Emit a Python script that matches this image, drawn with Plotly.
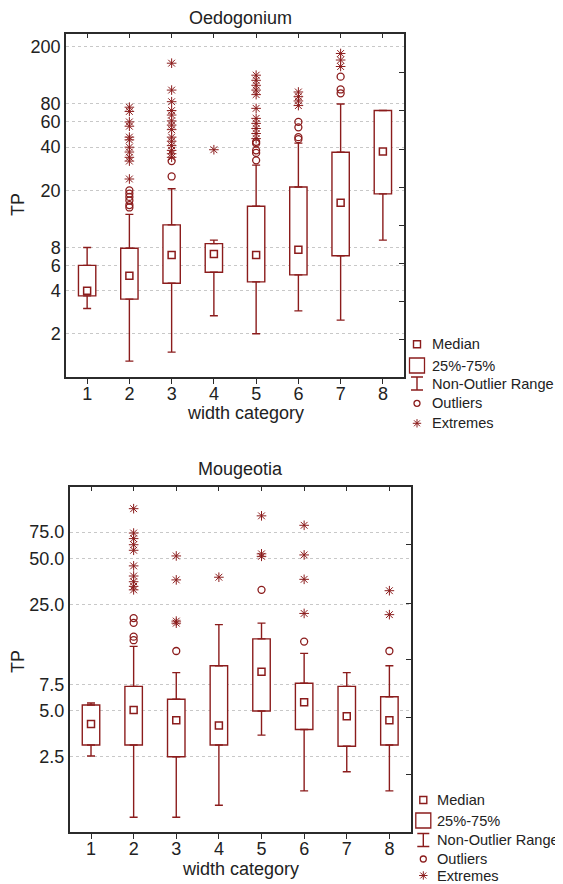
import plotly.graph_objects as go

# ---------------- data ----------------
categories = [1, 2, 3, 4, 5, 6, 7, 8]

# Oedogonium (top)
oed_q1 = [3.68, 3.49, 4.5, 5.37, 4.6, 5.15, 7.0, 18.9]
oed_median = [4.0, 5.07, 7.1, 7.2, 7.1, 7.7, 16.4, 37.3]
oed_q3 = [6.0, 7.9, 11.5, 8.5, 15.5, 21.1, 36.9, 72.0]
oed_low = [3.0, 1.29, 1.49, 2.67, 2.0, 2.89, 2.49, 9.0]
oed_high = [8.0, 13.6, 20.5, 9.0, 30.0, 42.7, 80.0, 72.0]
oed_outliers = [[], [20, 19, 18, 17, 15.8, 15.2], [32, 25], [], [43.6, 42.5, 38, 36.5, 32.4],
                [60, 55, 47, 45.5], [124, 101, 95], []]
oed_extremes = [[], [76, 71, 60, 56, 47, 45, 40, 37, 34, 32, 24],
                [154, 100, 83, 72, 67, 61, 57, 53, 47, 44, 41, 38, 36, 34],
                [38.4], [127, 117, 108, 100, 93, 74.6, 63.5, 58.6, 54, 49.8, 45.9],
                [97, 90, 84, 78], [180, 162, 146], []]
oed_ytick_vals = [2, 4, 6, 8, 20, 40, 60, 80, 200]
oed_ytick_text = ["2", "4", "6", "8", "20", "40", "60", "80", "200"]
oed_right_ticks = [1.84, 3.38, 6.22, 11.46, 21.1, 38.8, 71.6, 133.6]

# Mougeotia (bottom)
mou_q1 = [2.99, 2.99, 2.5, 2.99, 5.0, 3.78, 2.93, 2.99]
mou_median = [4.10, 5.07, 4.34, 4.02, 9.06, 5.70, 4.61, 4.34]
mou_q3 = [5.47, 7.26, 5.97, 9.92, 14.9, 7.60, 7.26, 6.2]
mou_low = [2.53, 1.0, 1.0, 1.2, 3.47, 1.49, 1.99, 1.49]
mou_high = [5.64, 13.3, 8.93, 18.5, 18.9, 11.97, 8.93, 9.92]
mou_outliers = [[], [20.4, 19.0, 15.4, 14.6], [12.4], [], [31.3], [14.3], [], [12.4]]
mou_extremes = [[], [107, 74, 68, 62, 57, 45, 38.6, 35.4, 33, 31.3],
                [52.3, 36.4, 19.5, 18.9], [37.9], [96, 54, 52], [83.2, 53.1, 36.7, 21.9],
                [], [30.9, 21.5]]
mou_ytick_vals = [2.5, 5.0, 7.5, 25.0, 50.0, 75.0]
mou_ytick_text = ["2.5", "5.0", "7.5", "25.0", "50.0", "75.0"]
mou_right_ticks = [1.9, 4.56, 10.9, 25.5, 62.4]

legend_labels = ["Median", "25%-75%", "Non-Outlier Range", "Outliers", "Extremes"]

# ---------------- style ----------------
RED = "#8b1c1c"
AX = "#2b2b2b"
FONT = "Liberation Sans, Arial, sans-serif"
VW, VH = 563, 884          # browser window
OFF = 8                    # default page body margin
W, H = VW - OFF, VH - OFF  # figure size that fits the window


def px(x):
    return (x - OFF) / W


def py(y):
    return 1 - (y - OFF) / H


fig = go.Figure()
annotations = []


def add_panel(xa, ya, q1, med, q3, low, high, outl, extr):
    # box (25%-75%)
    fig.add_trace(go.Bar(x=categories, y=[b - a for a, b in zip(q1, q3)], base=q1,
                         width=0.41, marker=dict(color="white", line=dict(color=RED, width=1.4)),
                         xaxis=xa, yaxis=ya, showlegend=False, hoverinfo="skip"))
    # upper whiskers
    fig.add_trace(go.Scatter(x=categories, y=q3, mode="markers", marker=dict(size=0.1, color=RED),
                             error_y=dict(type="data", symmetric=False,
                                          array=[h - b for b, h in zip(q3, high)],
                                          arrayminus=[0] * len(q3), width=4,
                                          thickness=1.4, color=RED),
                             xaxis=xa, yaxis=ya, showlegend=False, hoverinfo="skip"))
    # lower whiskers
    fig.add_trace(go.Scatter(x=categories, y=q1, mode="markers", marker=dict(size=0.1, color=RED),
                             error_y=dict(type="data", symmetric=False,
                                          array=[0] * len(q1),
                                          arrayminus=[a - l for a, l in zip(q1, low)], width=4,
                                          thickness=1.4, color=RED),
                             xaxis=xa, yaxis=ya, showlegend=False, hoverinfo="skip"))
    # medians
    fig.add_trace(go.Scatter(x=categories, y=med, mode="markers",
                             marker=dict(symbol="square-open", size=7, color=RED, line=dict(width=1.5)),
                             xaxis=xa, yaxis=ya, showlegend=False, name="Median"))
    # outliers
    ox = [c for c, vals in zip(categories, outl) for _ in vals]
    oy = [v for vals in outl for v in vals]
    fig.add_trace(go.Scatter(x=ox, y=oy, mode="markers",
                             marker=dict(symbol="circle-open", size=7, color=RED, line=dict(width=1.3)),
                             xaxis=xa, yaxis=ya, showlegend=False, name="Outliers"))
    # extremes
    ex = [c for c, vals in zip(categories, extr) for _ in vals]
    ey = [v for vals in extr for v in vals]
    fig.add_trace(go.Scatter(x=ex, y=ey, mode="markers",
                             marker=dict(symbol="asterisk-open", size=8, color=RED,
                                         line=dict(width=1, color=RED)),
                             xaxis=xa, yaxis=ya, showlegend=False, name="Extremes"))


def add_key(xa, ya, sym_x, text_x, rows):
    """Custom key drawn on a hidden pixel-scaled axis pair."""
    fig.add_trace(go.Scatter(x=[sym_x], y=[rows[0]], mode="markers", xaxis=xa, yaxis=ya,
                             marker=dict(symbol="square-open", size=7, color=RED, line=dict(width=1.4)),
                             showlegend=False, hoverinfo="skip"))
    fig.add_trace(go.Scatter(x=[sym_x], y=[rows[1]], mode="markers", xaxis=xa, yaxis=ya,
                             marker=dict(symbol="square-open", size=15, color=RED, line=dict(width=1.3)),
                             showlegend=False, hoverinfo="skip"))
    fig.add_trace(go.Scatter(x=[sym_x], y=[rows[2]], mode="markers", xaxis=xa, yaxis=ya,
                             marker=dict(size=0.1, color=RED),
                             error_y=dict(type="data", array=[6.5], width=6, thickness=1.4, color=RED),
                             showlegend=False, hoverinfo="skip"))
    fig.add_trace(go.Scatter(x=[sym_x], y=[rows[3]], mode="markers", xaxis=xa, yaxis=ya,
                             marker=dict(symbol="circle-open", size=6, color=RED, line=dict(width=1.3)),
                             showlegend=False, hoverinfo="skip"))
    fig.add_trace(go.Scatter(x=[sym_x], y=[rows[4]], mode="markers", xaxis=xa, yaxis=ya,
                             marker=dict(symbol="asterisk-open", size=7, color=RED,
                                         line=dict(width=1, color=RED)),
                             showlegend=False, hoverinfo="skip"))
    for lab, yy in zip(legend_labels, rows):
        annotations.append(dict(text=lab, x=text_x, y=yy, xref=xa, yref=ya, xanchor="left",
                                yanchor="middle", showarrow=False,
                                font=dict(family=FONT, size=14.6, color="#222")))


add_panel("x", "y", oed_q1, oed_median, oed_q3, oed_low, oed_high, oed_outliers, oed_extremes)
add_panel("x2", "y2", mou_q1, mou_median, mou_q3, mou_low, mou_high, mou_outliers, mou_extremes)

# dummy traces for the overlay (top/right tick) axes
fig.add_trace(go.Scatter(x=[None], y=[None], xaxis="x3", yaxis="y3", showlegend=False))
fig.add_trace(go.Scatter(x=[None], y=[None], xaxis="x4", yaxis="y4", showlegend=False))

# keys (legend areas in window-pixel units)
add_key("x5", "y5", 417, 429.5, [344.3, 365.5, 383.5, 403.3, 423.3])
add_key("x6", "y6", 423.3, 434.5, [800.0, 820.5, 840.0, 859.0, 875.5])

top_xdom = [px(66), px(404)]
bot_xdom = [px(69.7), px(410.7)]
top_ydom = [py(377), py(34)]
bot_ydom = [py(832), py(487)]
top_yrange = [0.0, 2.391]
bot_yrange = [-0.097, 2.172]
xrange_ = [0.5, 8.5]

tickfont = dict(family=FONT, size=18, color="#222")

base_x = dict(range=xrange_, tickvals=categories, ticktext=[str(c) for c in categories],
              ticks="outside", ticklen=5, tickcolor=AX, tickwidth=1, showgrid=False,
              showline=True, linecolor=AX, linewidth=1.5, mirror=True, zeroline=False,
              tickfont=tickfont, ticklabelstandoff=-5)
base_y = dict(type="log", ticks="", showgrid=True, gridcolor="#c8c8c8", griddash="dot",
              gridwidth=1, showline=True, linecolor=AX, linewidth=1.5, mirror=True,
              zeroline=False, tickfont=tickfont)
hidden = dict(visible=False, showgrid=False, zeroline=False, fixedrange=True)

lab_font = dict(family=FONT, size=18, color="#222")
annotations += [
    dict(text="Oedogonium", x=px(240), y=py(18), xref="paper", yref="paper",
         xanchor="center", yanchor="middle", showarrow=False, font=lab_font),
    dict(text="Mougeotia", x=px(240), y=py(469), xref="paper", yref="paper",
         xanchor="center", yanchor="middle", showarrow=False, font=lab_font),
    dict(text="TP", x=px(18), y=py(205), xref="paper", yref="paper", textangle=-90,
         xanchor="center", yanchor="middle", showarrow=False, font=lab_font),
    dict(text="TP", x=px(18), y=py(662), xref="paper", yref="paper", textangle=-90,
         xanchor="center", yanchor="middle", showarrow=False, font=lab_font),
    dict(text="width category", x=px(245), y=py(413), xref="paper", yref="paper",
         xanchor="center", yanchor="middle", showarrow=False, font=lab_font),
    dict(text="width category", x=px(240), y=py(868.5), xref="paper", yref="paper",
         xanchor="center", yanchor="middle", showarrow=False, font=lab_font),
]

fig.update_layout(
    width=W, height=H, margin=dict(l=0, r=0, t=0, b=0, pad=0, autoexpand=False),
    paper_bgcolor="white", plot_bgcolor="rgba(0,0,0,0)", barmode="overlay",
    showlegend=False,
    font=dict(family=FONT, color="#222"),
    xaxis=dict(base_x, domain=top_xdom, anchor="y"),
    yaxis=dict(base_y, domain=top_ydom, anchor="x", range=top_yrange,
               tickvals=oed_ytick_vals, ticktext=oed_ytick_text),
    xaxis2=dict(base_x, domain=bot_xdom, anchor="y2"),
    yaxis2=dict(base_y, domain=bot_ydom, anchor="x2", range=bot_yrange,
                tickvals=mou_ytick_vals, ticktext=mou_ytick_text),
    xaxis3=dict(overlaying="x", side="top", range=xrange_, tickvals=categories,
                showticklabels=False, ticks="inside", ticklen=4, tickcolor=AX,
                showgrid=False, zeroline=False, showline=False, anchor="y3"),
    yaxis3=dict(overlaying="y", side="right", type="log", range=top_yrange,
                tickvals=oed_right_ticks, showticklabels=False, ticks="inside", ticklen=5,
                tickcolor=AX, showgrid=False, zeroline=False, showline=False, anchor="x3"),
    xaxis4=dict(overlaying="x2", side="top", range=xrange_, tickvals=categories,
                showticklabels=False, ticks="inside", ticklen=4, tickcolor=AX,
                showgrid=False, zeroline=False, showline=False, anchor="y4"),
    yaxis4=dict(overlaying="y2", side="right", type="log", range=bot_yrange,
                tickvals=mou_right_ticks, showticklabels=False, ticks="inside", ticklen=5,
                tickcolor=AX, showgrid=False, zeroline=False, showline=False, anchor="x4"),
    xaxis5=dict(hidden, domain=[px(406), 1.0], range=[406, VW], anchor="y5"),
    yaxis5=dict(hidden, domain=[py(440), py(330)], range=[440, 330], anchor="x5"),
    xaxis6=dict(hidden, domain=[px(406), 1.0], range=[406, VW], anchor="y6"),
    yaxis6=dict(hidden, domain=[0.0, py(785)], range=[VH, 785], anchor="x6"),
    annotations=annotations,
)

fig.write_html("out.html")
